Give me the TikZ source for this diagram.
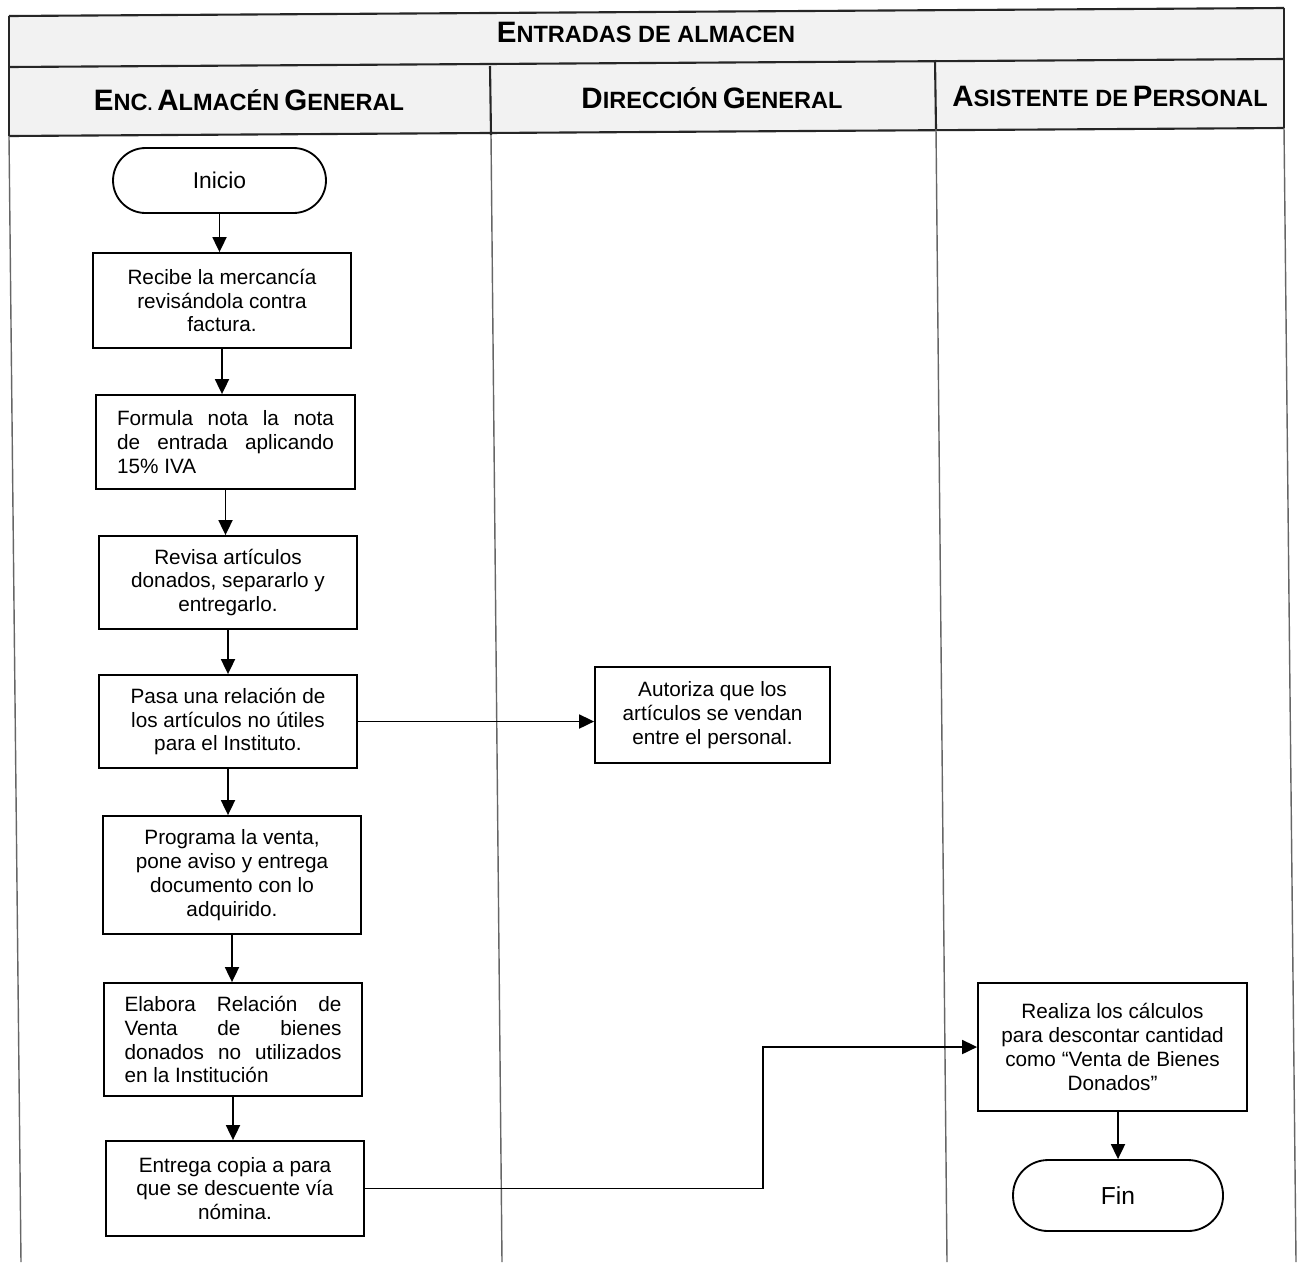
\documentclass[tikz,border=0pt]{standalone}
\usepackage{fontspec}
\setmainfont{Liberation Sans}
\usetikzlibrary{arrows.meta}

% fake small caps for the headings
\newcommand\capbig[1]{{\fontsize{16.8}{19}\selectfont #1}}
\newcommand\capsmall[1]{{\fontsize{13.4}{19}\selectfont #1}}

\tikzset{
  px/.style={x=0.02cm,y=-0.02cm},
  frame/.style={line width=1.2pt,draw=black!85},
  lane/.style={line width=0.8pt,draw=black!60},
  stepbox/.style={draw,line width=1.05pt,align=center,inner sep=0pt,
    font=\fontsize{11.8}{13.6}\selectfont},
  term/.style={draw,line width=1.05pt,rounded corners=0.65cm,inner sep=0pt},
  arr/.style={line width=1.05pt,-{Triangle[length=0.3cm,width=0.28cm]}},
  head/.style={font=\bfseries,inner sep=0pt}
}

\begin{document}
\begin{tikzpicture}[px]
\useasboundingbox (0,0) rectangle (1300,1262);

% heading band
\fill[gray!10] (9,16) -- (1284,8) -- (1284,128) -- (9,136) -- cycle;
\draw[frame] (9,16) -- (1284,8);
\draw[frame] (9,67) -- (1284,59);
\draw[frame] (9,136) -- (1284,128);
\draw[frame] (9,16) -- (9,136);
\draw[frame] (1284,8) -- (1284,128);
\draw[frame] (490,66) -- (491,135);
\draw[frame] (935,60) -- (936,129);

% swimlane borders
\draw[lane] (9,136) -- (21,1262);
\draw[lane] (491,135) -- (502,1262);
\draw[lane] (936,129) -- (947,1262);
\draw[lane] (1284,128) -- (1296,1262);

% headings
\node[head] (title) at (646,32) {\capbig{E}\capsmall{NTRADAS DE ALMACEN}};
\node[head] (h1) at (249,100) {\capbig{E}\capsmall{NC}. \capbig{A}\capsmall{LMACÉN} \capbig{G}\capsmall{ENERAL}};
\node[head] (h2) at (712,98) {\capbig{D}\capsmall{IRECCIÓN} \capbig{G}\capsmall{ENERAL}};
\node[head] (h3) at (1110,96) {\capbig{A}\capsmall{SISTENTE DE} \capbig{P}\capsmall{ERSONAL}};

% steps
\node[term,minimum width=4.26cm,minimum height=1.3cm,font=\fontsize{13}{15}\selectfont]
  (ini) at (219.5,180.5) {Inicio};
\node[stepbox,minimum width=5.16cm,minimum height=1.9cm] (b1) at (222,300.5)
  {Recibe la mercancía\\revisándola contra\\factura.};
\node[stepbox,minimum width=5.18cm,minimum height=1.88cm,align=left] (b2) at (225.5,442)
  {\makebox[4.34cm][s]{Formula nota la nota}\\\makebox[4.34cm][s]{de entrada aplicando}\\15\% IVA\hfill};
\node[stepbox,minimum width=5.16cm,minimum height=1.86cm] (b3) at (228,582.5)
  {Revisa artículos\\donados, separarlo y\\entregarlo.};
\node[stepbox,minimum width=5.16cm,minimum height=1.86cm] (b4) at (228,721.5)
  {Pasa una relación de\\los artículos no útiles\\para el Instituto.};
\node[stepbox,minimum width=5.16cm,minimum height=2.36cm] (b5) at (232,875)
  {Programa la venta,\\pone aviso y entrega\\documento con lo\\adquirido.};
\node[stepbox,minimum width=5.16cm,minimum height=2.26cm,align=left] (b6) at (233,1039.5)
  {\makebox[4.34cm][s]{Elabora Relación de}\\\makebox[4.34cm][s]{Venta de bienes}\\\makebox[4.34cm][s]{donados no utilizados}\\en la Institución\hfill};
\node[stepbox,minimum width=5.16cm,minimum height=1.9cm] (b7) at (235,1188.5)
  {Entrega copia a para\\que se descuente vía\\nómina.};
\node[stepbox,minimum width=4.7cm,minimum height=1.92cm] (aut) at (712.5,715)
  {Autoriza que los\\artículos se vendan\\entre el personal.};
\node[stepbox,minimum width=5.38cm,minimum height=2.56cm] (rea) at (1112.5,1047)
  {Realiza los cálculos\\para descontar cantidad\\como “Venta de Bienes\\Donados”};
\node[term,minimum width=4.2cm,minimum height=1.42cm,rounded corners=0.7cm,
  font=\fontsize{14}{16}\selectfont] (fin) at (1118,1195.5) {Fin};

% connectors
\draw[arr] (ini.south) -- (ini.south |- b1.north);
\draw[arr] (b1.south) -- (b1.south |- b2.north);
\draw[arr] (b2.south) -- (b2.south |- b3.north);
\draw[arr] (b3.south) -- (b3.south |- b4.north);
\draw[arr] (b4.south) -- (b4.south |- b5.north);
\draw[arr] (b5.south) -- (b5.south |- b6.north);
\draw[arr] (b6.south) -- (b6.south |- b7.north);
\draw[arr] (b4.east) -- (b4.east -| aut.west);
\coordinate (turn) at (763,1188.5);
\draw[arr] (b7.east) -- (turn) |- (rea.west);
\draw[arr] (rea.south -| fin.north) -- (fin.north);
\end{tikzpicture}
\end{document}
